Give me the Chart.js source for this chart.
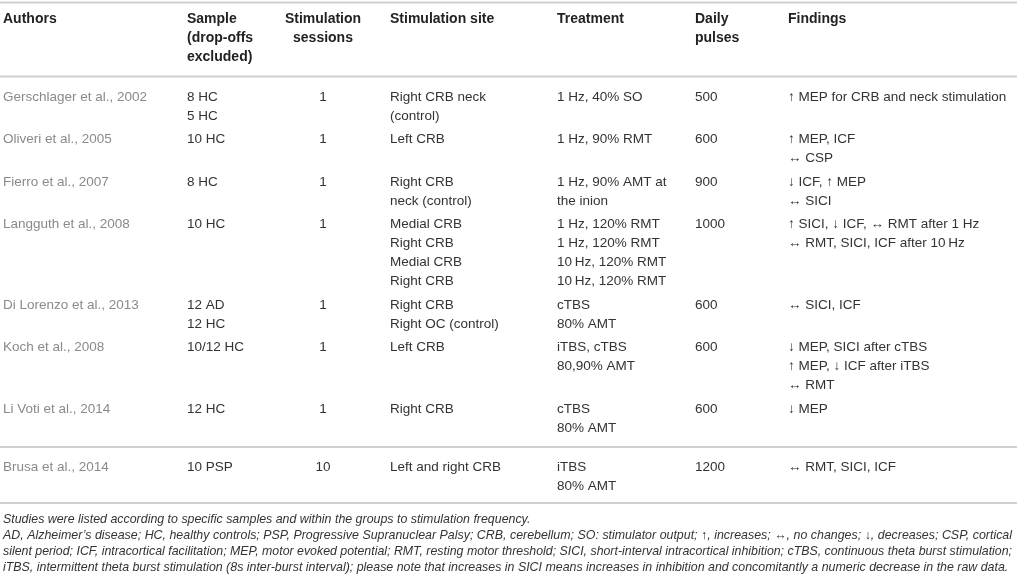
<!DOCTYPE html>
<html lang="en">
<head>
    <meta charset="UTF-8">
    <title>CRB stimulation studies</title>
    <script src="https://cdn.jsdelivr.net/npm/chart.js"></script>
    <style>
        body {
            margin: 0;
            background-color: #ffffff;
        }
        #wrap {
            width: 1017px;
            height: 582px;
            position: relative;
        }
    </style>
</head>
<body>
    <div id="wrap"><canvas id="tableChart"></canvas></div>
    <script>
        // table content, one array per column
        const headers = [
            ['Authors'],
            ['Sample', '(drop-offs', 'excluded)'],
            ['Stimulation', 'sessions'],
            ['Stimulation site'],
            ['Treatment'],
            ['Daily', 'pulses'],
            ['Findings']
        ];
        const authors = [
            'Gerschlager et al., 2002',
            'Oliveri et al., 2005',
            'Fierro et al., 2007',
            'Langguth et al., 2008',
            'Di Lorenzo et al., 2013',
            'Koch et al., 2008',
            'Li Voti et al., 2014',
            'Brusa et al., 2014'
        ];
        const samples = [
            ['8 HC', '5 HC'], ['10 HC'], ['8 HC'], ['10 HC'],
            ['12 AD', '12 HC'], ['10/12 HC'], ['12 HC'], ['10 PSP']
        ];
        const sessions = ['1', '1', '1', '1', '1', '1', '1', '10'];
        const sites = [
            ['Right CRB neck', '(control)'],
            ['Left CRB'],
            ['Right CRB', 'neck (control)'],
            ['Medial CRB', 'Right CRB', 'Medial CRB', 'Right CRB'],
            ['Right CRB', 'Right OC (control)'],
            ['Left CRB'],
            ['Right CRB'],
            ['Left and right CRB']
        ];
        const treatments = [
            ['1 Hz, 40% SO'],
            ['1 Hz, 90% RMT'],
            ['1 Hz, 90% AMT at', 'the inion'],
            ['1 Hz, 120% RMT', '1 Hz, 120% RMT', '10\u2009Hz, 120% RMT', '10\u2009Hz, 120% RMT'],
            ['cTBS', '80% AMT'],
            ['iTBS, cTBS', '80,90% AMT'],
            ['cTBS', '80% AMT'],
            ['iTBS', '80% AMT']
        ];
        const pulses = ['500', '600', '900', '1000', '600', '600', '600', '1200'];
        const findings = [
            ['\u2191 MEP for CRB and neck stimulation'],
            ['\u2191 MEP, ICF', '\u2194 CSP'],
            ['\u2193 ICF, \u2191 MEP', '\u2194 SICI'],
            ['\u2191 SICI, \u2193 ICF, \u2194 RMT after 1 Hz', '\u2194 RMT, SICI, ICF after 10\u2009Hz'],
            ['\u2194 SICI, ICF'],
            ['\u2193 MEP, SICI after cTBS', '\u2191 MEP, \u2193 ICF after iTBS', '\u2194 RMT'],
            ['\u2193 MEP'],
            ['\u2194 RMT, SICI, ICF']
        ];
        const groups = [0, 0, 0, 0, 0, 0, 0, 1];
        const notes = [
            'Studies were listed according to specific samples and within the groups to stimulation frequency.',
            'AD, Alzheimer\u2019s disease; HC, healthy controls; PSP, Progressive Supranuclear Palsy; CRB, cerebellum; SO: stimulator output; \u2191, increases; \u2194, no changes; \u2193, decreases; CSP, cortical',
            'silent period; ICF, intracortical facilitation; MEP, motor evoked potential; RMT, resting motor threshold; SICI, short-interval intracortical inhibition; cTBS, continuous theta burst stimulation;',
            'iTBS, intermittent theta burst stimulation (8s inter-burst interval); please note that increases in SICI means increases in inhibition and concomitantly a numeric decrease in the raw data.'
        ];
        // which footnote lines are justified to the full width
        const notesJustify = [false, true, true, false];

        // layout (in scale units, the scales run over the page size)
        const colX = [3, 187, 323, 390, 557, 695, 788];
        const colAlign = ['left', 'left', 'center', 'left', 'left', 'left', 'left'];
        const lineH = 19;
        const rowGap = 23.5;
        const noteRight = 1012;
        const FONT = '"Liberation Sans", Arial, Helvetica, sans-serif';

        function cellLines(r) {
            return [[authors[r]], samples[r], [sessions[r]], sites[r], treatments[r], [pulses[r]], findings[r]];
        }

        const tablePlugin = {
            id: 'tablePlugin',
            afterDraw(chart) {
                const c = chart.ctx;
                const xs = chart.scales.x, ys = chart.scales.y;
                const px = v => xs.getPixelForValue(v);
                const py = v => ys.getPixelForValue(v);

                function rule(y) {
                    c.save();
                    c.strokeStyle = '#d0d0d0';
                    c.lineWidth = 2;
                    c.beginPath();
                    c.moveTo(px(0), py(y));
                    c.lineTo(px(1017), py(y));
                    c.stroke();
                    c.restore();
                }

                // spread the word gaps so the line ends at x1
                function justified(text, x0, x1, y) {
                    const words = text.split(' ');
                    const total = x1 - x0;
                    const natural = c.measureText(text).width;
                    if (natural >= total || words.length < 2) {
                        c.fillText(text, x0, y, total);
                        return;
                    }
                    const wordsW = words.reduce((s, w) => s + c.measureText(w).width, 0);
                    const gap = (total - wordsW) / (words.length - 1);
                    let x = x0;
                    words.forEach(w => {
                        c.fillText(w, x, y);
                        x += c.measureText(w).width + gap;
                    });
                }

                c.save();
                c.textBaseline = 'middle';

                // header
                rule(2.5);
                c.font = 'bold 14px ' + FONT;
                c.fillStyle = '#222';
                headers.forEach((h, i) => {
                    c.textAlign = colAlign[i];
                    h.forEach((t, k) => c.fillText(t, px(colX[i]), py(19 + k * lineH)));
                });
                rule(76.5);

                // rows
                let y = 97;
                let last = y;
                c.font = '13.5px ' + FONT;
                authors.forEach((a, r) => {
                    if (r > 0 && groups[r] !== groups[r - 1]) {
                        rule(last + 19);
                        y = last + 39;
                    }
                    const cells = cellLines(r);
                    let n = 1;
                    cells.forEach((lines, i) => {
                        c.textAlign = colAlign[i];
                        c.fillStyle = i === 0 ? '#8a8a8a' : '#333';
                        lines.forEach((t, k) => c.fillText(t, px(colX[i]), py(y + k * lineH)));
                        n = Math.max(n, lines.length);
                    });
                    last = y + (n - 1) * lineH;
                    y = last + rowGap;
                });
                rule(last + 17);

                // footnote
                c.font = 'italic 12.4px ' + FONT;
                c.fillStyle = '#333';
                c.textAlign = 'left';
                notes.forEach((t, k) => {
                    const ty = py(last + 34 + k * 16);
                    if (notesJustify[k]) justified(t, px(3), px(noteRight), ty);
                    else c.fillText(t, px(3), ty, px(noteRight) - px(3));
                });
                c.restore();
            }
        };

        const chart = new Chart(document.getElementById('tableChart'), {
            type: 'scatter',
            data: { datasets: [{ data: [], pointRadius: 0 }] },
            options: {
                responsive: true,
                maintainAspectRatio: false,
                animation: false,
                layout: { padding: 0 },
                plugins: { legend: { display: false }, tooltip: { enabled: false } },
                scales: {
                    x: { type: 'linear', min: 0, max: 1017, display: false },
                    y: { type: 'linear', min: 0, max: 582, reverse: true, display: false }
                }
            },
            plugins: [tablePlugin]
        });
    </script>
</body>
</html>
